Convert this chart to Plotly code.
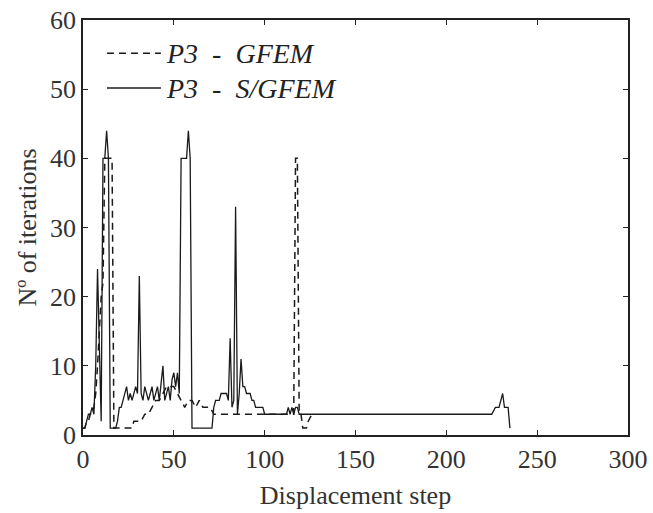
import plotly.graph_objects as go

# P3 - S/GFEM (solid)
steps_s = [0, 1, 2, 3, 4, 5, 6, 7, 8, 9, 10, 11, 12, 13, 14, 15, 18, 19, 20, 21,
           22, 23, 24, 25, 26, 27, 28, 29, 30, 31, 32, 33, 34, 35, 36, 37, 38, 39,
           40, 41, 42, 43, 44, 45, 46, 47, 48, 49, 50, 51, 52, 53, 54, 57, 58, 59,
           60, 71, 72, 73, 74, 75, 76, 77, 78, 79, 80, 81, 82, 83, 84, 85, 86, 87,
           88, 89, 90, 91, 92, 93, 94, 95, 96, 97, 98, 99, 100, 112, 113, 114, 115,
           116, 117, 118, 119, 225, 227, 229, 231, 232, 234, 235]
iters_s = [1, 1, 2, 3, 3, 4, 3, 10, 24, 12, 2, 40, 40, 44, 40, 1, 1, 2, 4, 4,
           5, 6, 7, 5, 6, 5, 6, 7, 6, 23, 6, 5, 7, 6, 5, 6, 7, 5,
           6, 7, 5, 8, 10, 5, 6, 7, 5, 8, 9, 7, 9, 6, 40, 40, 44, 40,
           1, 1, 4, 5, 5, 5, 6, 6, 6, 6, 5, 14, 4, 5, 33, 3, 6, 11,
           7, 7, 6, 6, 6, 5, 5, 4, 4, 4, 4, 4, 3, 3, 4, 3, 4,
           3, 4, 4, 3, 3, 4, 4, 6, 4, 4, 1]

# P3 - GFEM (dashed)
steps_d = [0, 1, 2, 3, 4, 5, 6, 7, 8, 9, 10, 11, 12, 16, 17, 27, 28, 30, 32, 34,
           36, 38, 40, 42, 44, 46, 48, 50, 52, 54, 56, 58, 60, 62, 64, 66, 68, 70,
           72, 116, 117, 118, 119, 120, 121, 123, 124, 126]
iters_d = [1, 1, 2, 2, 3, 3, 4, 6, 10, 15, 20, 22, 40, 40, 1, 1, 2, 2, 2, 3,
           3, 4, 5, 5, 6, 7, 7, 7, 6, 5, 4, 5, 5, 4, 5, 4, 4, 4,
           3, 3, 40, 40, 3, 3, 1, 1, 2, 3]

series_names = ["P3 - GFEM", "P3 - S/GFEM"]
x_ticks = [0, 50, 100, 150, 200, 250, 300]
y_ticks = [0, 10, 20, 30, 40, 50, 60]

FONT = "Liberation Serif, Times New Roman, serif"
DASH = "7px,5px"

fig = go.Figure()
fig.add_trace(go.Scatter(x=steps_d, y=iters_d, mode="lines",
                         name=series_names[0], showlegend=False,
                         line=dict(color="#1a1a1a", width=1.5, dash=DASH)))
fig.add_trace(go.Scatter(x=steps_s, y=iters_s, mode="lines",
                         name=series_names[1], showlegend=False,
                         line=dict(color="#1a1a1a", width=1.3)))

# legend (line samples + labels) in the upper-left corner
legend_rows = [(0.920, DASH), (0.836, "solid")]
for (yy, dash), label in zip(legend_rows, series_names):
    fig.add_shape(type="line", xref="paper", yref="paper",
                  x0=0.044, x1=0.143, y0=yy, y1=yy,
                  line=dict(color="#1a1a1a", width=1.4, dash=dash))
    fig.add_annotation(xref="paper", yref="paper", x=0.148, y=yy,
                       xanchor="left", yanchor="middle", showarrow=False,
                       text="<i>" + label.replace(" - ", "\u00a0 -\u00a0 ") + "</i>",
                       font=dict(family=FONT, size=28, color="#222"))

axis_common = dict(showgrid=False, zeroline=False, showline=True, linecolor="#222",
                   linewidth=1.5, mirror="ticks", ticks="inside", ticklen=5,
                   tickcolor="#222", tickwidth=1.2, automargin=False,
                   tickfont=dict(family=FONT, size=26, color="#333"))

fig.update_layout(
    width=653, height=513,
    margin=dict(l=83, r=25, t=20, b=78),
    paper_bgcolor="white", plot_bgcolor="white",
    showlegend=False,
    xaxis=dict(range=[0, 300], tickvals=x_ticks,
               title=dict(text="Displacement step", standoff=13,
                          font=dict(family=FONT, size=26, color="#333")),
               **axis_common),
    yaxis=dict(range=[0, 60], tickvals=y_ticks,
               title=dict(text="Nº of iterations", standoff=6,
                          font=dict(family=FONT, size=26, color="#333")),
               **axis_common),
)

fig.write_html("out.html", config={"displayModeBar": False},
               post_script="document.body.style.margin='0px';document.body.style.padding='0px';")
